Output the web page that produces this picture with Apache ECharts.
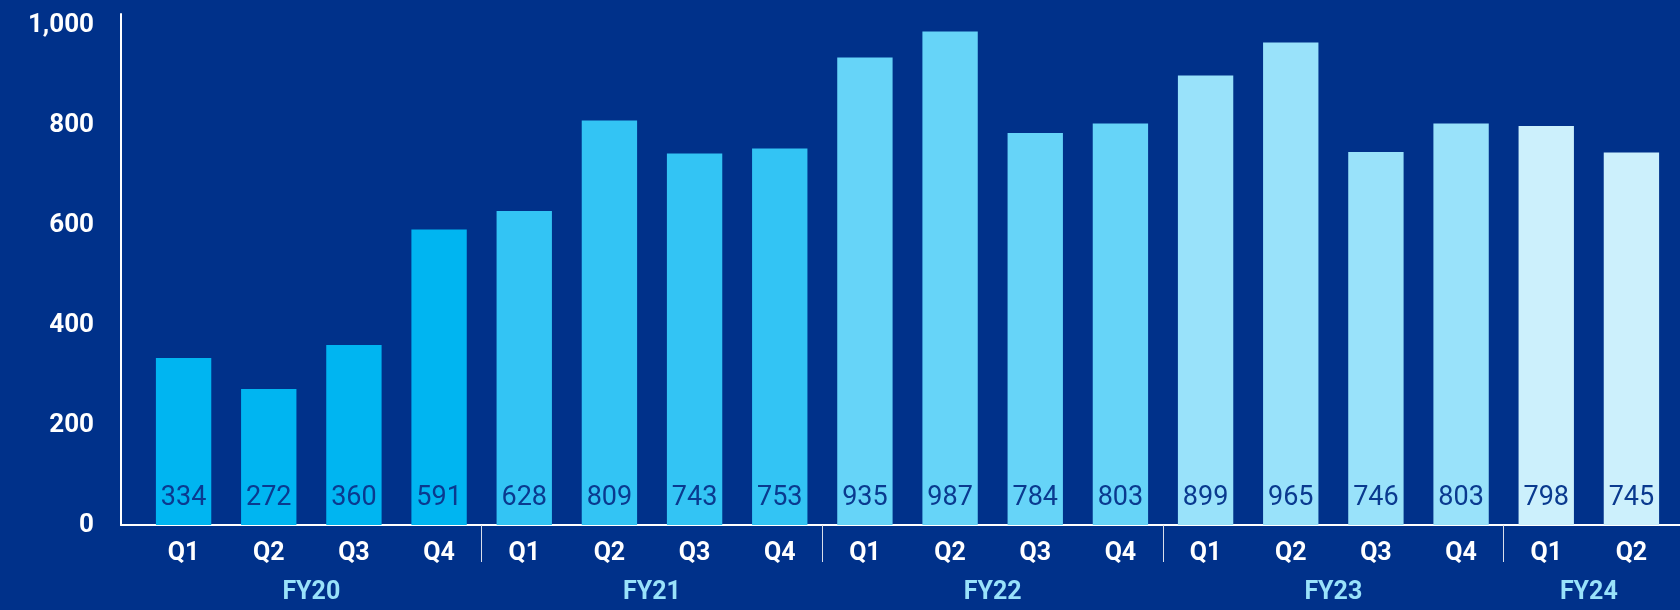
<!DOCTYPE html>
<html>
<head>
<meta charset="utf-8">
<script src="https://cdn.jsdelivr.net/npm/echarts@6/dist/echarts.min.js"></script>
<style>
  html, body { margin: 0; padding: 0; background: #00318A; }
  #main { width: 1680px; height: 610px; }
</style>
</head>
<body>
<div id="main"></div>
<script>
var quarters = ['Q1','Q2','Q3','Q4','Q1','Q2','Q3','Q4','Q1','Q2','Q3','Q4','Q1','Q2','Q3','Q4','Q1','Q2'];
var values = [334, 272, 360, 591, 628, 809, 743, 753, 935, 987, 784, 803, 899, 965, 746, 803, 798, 745];
var fyLabels = ['FY20', 'FY21', 'FY22', 'FY23', 'FY24'];
var fyCounts = [4, 4, 4, 4, 2];
var fyColors = ['#00B5F1', '#33C4F4', '#66D4F8', '#99E2FA', '#CCF0FC'];

// which fiscal year each bar belongs to
var barGroup = [];
fyCounts.forEach(function (n, g) {
  for (var i = 0; i < n; i++) barGroup.push(g);
});

// second axis runs on category boundaries (0..18): year names sit mid-group,
// ticks mark the group edges
var boundaryLabels = [];
var edgeIdx = {};
for (var b = 0; b <= quarters.length; b++) boundaryLabels.push('');
var start = 0;
fyCounts.forEach(function (n, g) {
  boundaryLabels[start + n / 2] = fyLabels[g];
  start += n;
  if (start < quarters.length) edgeIdx[start] = true;
});

var chart = echarts.init(document.getElementById('main'));
var font = 'Roboto, "Noto Sans", sans-serif';

var option = {
  backgroundColor: '#00318A',
  animation: false,
  grid: [
    { left: 141, right: 6, top: 25, bottom: 85 },
    { left: 121, right: 0, top: 14, bottom: 85 }
  ],
  xAxis: [
    {
      type: 'category',
      gridIndex: 0,
      data: quarters,
      axisLine: { show: false },
      axisTick: { show: false },
      axisLabel: {
        color: '#ffffff', fontFamily: font, fontWeight: 'bold', fontSize: 25, margin: 16
      }
    },
    {
      type: 'category',
      gridIndex: 0,
      data: boundaryLabels,
      boundaryGap: false,
      position: 'bottom',
      axisLine: { show: false },
      axisTick: {
        show: true,
        length: 37,
        interval: function (idx) { return !!edgeIdx[idx]; },
        lineStyle: { color: '#D8DEEA', width: 1 }
      },
      axisLabel: {
        interval: 0,
        color: '#99E2FA', fontFamily: font, fontWeight: 'bold', fontSize: 25, margin: 55
      }
    },
    {
      type: 'value',
      gridIndex: 1,
      min: 0, max: 1,
      axisLine: { show: true, lineStyle: { color: '#ffffff', width: 2 } },
      axisTick: { show: false },
      axisLabel: { show: false },
      splitLine: { show: false }
    }
  ],
  yAxis: [
    {
      type: 'value',
      gridIndex: 0,
      min: 0, max: 1000, interval: 200,
      axisLine: { show: false },
      axisTick: { show: false },
      splitLine: { show: false },
      axisLabel: {
        color: '#ffffff', fontFamily: font, fontWeight: 'bold', fontSize: 26, margin: 47,
        formatter: function (v) { return v.toLocaleString('en-US'); }
      }
    },
    {
      type: 'value',
      gridIndex: 1,
      min: 0, max: 1,
      axisLine: { show: true, lineStyle: { color: '#ffffff', width: 2 } },
      axisTick: { show: false },
      axisLabel: { show: false },
      splitLine: { show: false }
    }
  ],
  series: [
    {
      type: 'bar',
      xAxisIndex: 0,
      yAxisIndex: 0,
      data: values,
      barCategoryGap: '35%',
      itemStyle: {
        color: function (p) { return fyColors[barGroup[p.dataIndex]]; }
      },
      label: {
        show: true,
        position: 'insideBottom',
        distance: 13,
        color: '#0A3A8F',
        fontFamily: font,
        fontSize: 27
      }
    }
  ]
};
chart.setOption(option);
</script>
</body>
</html>
